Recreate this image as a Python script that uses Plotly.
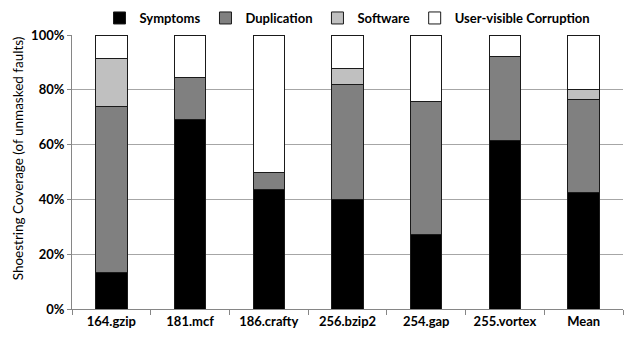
import plotly.graph_objects as go

benchmarks = ["164.gzip", "181.mcf", "186.crafty", "256.bzip2", "254.gap", "255.vortex", "Mean"]
symptoms = [13.5, 69.2, 43.6, 40.0, 27.3, 61.6, 42.6]
duplication = [60.4, 15.3, 6.2, 41.8, 48.4, 30.6, 33.7]
software = [17.7, 0.0, 0.0, 6.0, 0.0, 0.0, 3.8]
user_visible = [8.4, 15.5, 50.2, 12.2, 24.3, 7.8, 19.9]

series = [
    ("Symptoms", symptoms, "#000000"),
    ("Duplication", duplication, "#808080"),
    ("Software", software, "#c0c0c0"),
    ("User-visible Corruption", user_visible, "#ffffff"),
]

FONT = "Lato"

fig = go.Figure()
for name, vals, color in series:
    fig.add_trace(go.Bar(
        x=benchmarks, y=vals, name=name,
        marker=dict(color=color, line=dict(color="#1a1a1a", width=1)),
    ))

fig.update_layout(
    barmode="stack",
    bargap=0.6,
    width=626, height=338,
    margin=dict(l=72, r=3, t=32, b=29),
    paper_bgcolor="white", plot_bgcolor="white",
    font=dict(family=FONT, size=13, color="black"),
    legend=dict(
        orientation="h", x=0.5, xanchor="center", y=1.062, yanchor="middle",
        font=dict(family=FONT, size=13, color="black", weight="bold"),
        itemwidth=30, traceorder="normal", bgcolor="rgba(0,0,0,0)",
    ),
    showlegend=True,
)

# y-axis title placed slightly above the axis midpoint
fig.add_annotation(
    text="Shoestring Coverage (of unmasked faults)",
    xref="paper", yref="paper", x=-0.098, y=0.55,
    xanchor="center", yanchor="middle", textangle=-90, showarrow=False,
    font=dict(family=FONT, size=13.5, color="black"),
)

fig.update_xaxes(
    type="category", tickson="boundaries",
    ticks="outside", ticklen=5, tickcolor="#868686",
    showline=True, linecolor="#868686", linewidth=1,
    showgrid=False,
    tickfont=dict(family=FONT, size=13, color="black", weight="bold"),
)
fig.update_yaxes(
    range=[0, 100], dtick=20, ticksuffix="%",
    ticks="outside", ticklen=4, tickcolor="#868686",
    showline=True, linecolor="#868686", linewidth=1,
    showgrid=True, gridcolor="#a6a6a6", gridwidth=1,
    zeroline=False,
    tickfont=dict(family=FONT, size=13, color="black", weight="bold"),
)

fig.write_html("out.html")
